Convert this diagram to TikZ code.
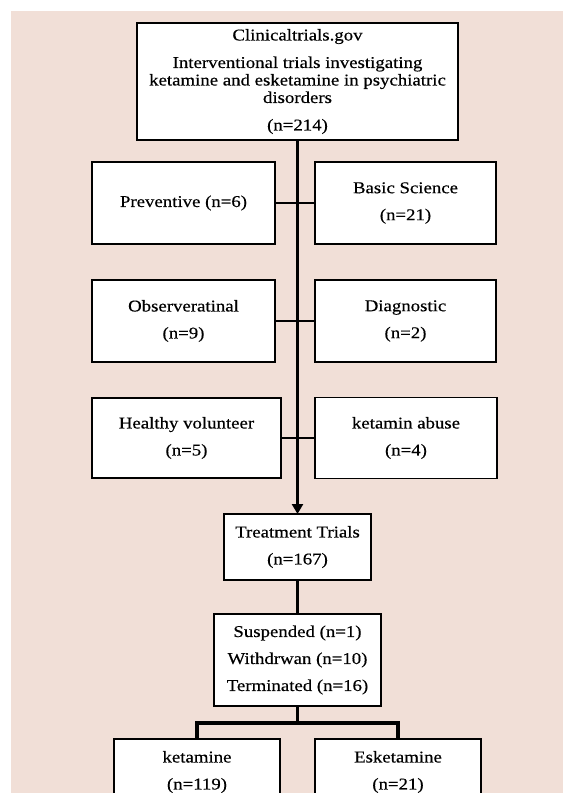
\documentclass[tikz,border=0pt]{standalone}
\usepackage{fontspec}
\setmainfont{Liberation Serif}[FakeStretch=1.14,FakeBold=0.4]
\usetikzlibrary{positioning,arrows.meta}
\definecolor{bgpink}{RGB}{241,223,215}

\begin{document}
\begin{tikzpicture}[x=1pt,y=-1pt,
   box/.style={draw,line width=1.8pt,fill=white,align=center,inner sep=0pt,outer sep=0pt,
      font=\fontsize{16.5}{17.5}\selectfont},
   trunk/.style={line width=3.2pt},
   link/.style={line width=1.6pt}]
\useasboundingbox (0,0) rectangle (563,793);
\fill[bgpink] (11,11) rectangle (563,793);

\node[box,minimum width=321pt,minimum height=117pt] (ctg) at (297.5,81.5)
   {Clinicaltrials.gov\\[10pt]
    Interventional trials investigating\\
    ketamine and esketamine in psychiatric\\
    disorders\\[10pt]
    (n=214)};

\node[box,minimum width=183pt,minimum height=82pt] (prev) at (183.5,203) {Preventive (n=6)};
\node[box,minimum width=181pt,minimum height=82pt,right=40pt of prev] (basic) {Basic Science\\[9.5pt] (n=21)};
\node[box,minimum width=183pt,minimum height=82pt] (obs) at (183.5,321) {Observeratinal\\[9.5pt] (n=9)};
\node[box,minimum width=181pt,minimum height=82pt,right=40pt of obs] (diag) {Diagnostic\\[9.5pt] (n=2)};
\node[box,minimum width=189pt,minimum height=80pt] (healthy) at (186.5,438) {Healthy volunteer\\[9.5pt] (n=5)};
\node[box,minimum width=182pt,minimum height=81pt,right=34pt of healthy] (abuse) {ketamin abuse\\[9.5pt] (n=4)};

\node[box,minimum width=147pt,minimum height=66pt] (treat) at (297.5,547) {Treatment Trials\\[9.5pt] (n=167)};
\node[box,minimum width=167pt,minimum height=92pt] (status) at (297.5,660)
   {Suspended (n=1)\\[9.5pt] Withdrwan (n=10)\\[9.5pt] Terminated (n=16)};

\node[box,minimum width=166pt,minimum height=66pt] (keta) at (197,772) {ketamine\\[9.5pt] (n=119)};
\node[box,minimum width=166pt,minimum height=66pt] (esket) at (398,772) {Esketamine\\[9.5pt] (n=21)};

\draw[link] (prev) -- (basic);
\draw[link] (obs) -- (diag);
\draw[link] (healthy) -- (abuse);
\draw[trunk,-{Triangle[width=11pt,length=10pt]}] (ctg) -- (treat);
\draw[trunk] (treat) -- (status);
\draw[trunk] (status.south) -- ++(0,17) -| (keta);
\draw[trunk] (status.south) -- ++(0,17) -| (esket);

\end{tikzpicture}
\end{document}
